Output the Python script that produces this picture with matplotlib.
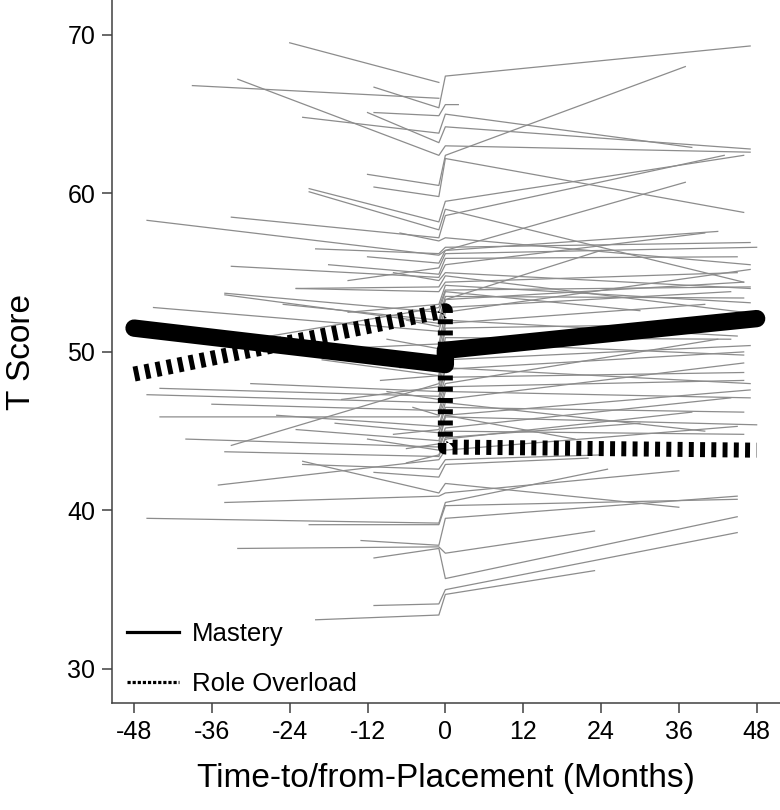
import numpy as np
import matplotlib
matplotlib.use("Agg")
import matplotlib.pyplot as plt
from matplotlib.lines import Line2D

plt.rcParams['font.family'] = ['Liberation Sans', 'DejaVu Sans']
plt.rcParams['axes.unicode_minus'] = False

# individual trajectories: pre-placement segment (start month, start score, score just before 0)
pre_t = [-24, -39, -32, -11, -11, -22, -12, -12, -11, -21, -21, -46, -33, -12, -33, -23, -34, -45,
         -34, -23, -44, -46, -44, -36, -33, -34, -23, -35, -34, -22, -46, -32, -21, -13, -11, -11,
         -20, -11, -22, -8, -6, -9, -7, -10, -5, -8, -6, -14, -16, -7,
         -18, -25, -15, -28, -19, -30, -9, -26, -17, -12, -40, -20, -15, -27, -6]
pre_v0 = [69.5, 66.8, 67.2, 66.7, 65.1, 64.8, 65.1, 61.2, 60.4, 60.3, 60.1, 58.3, 58.5, 56.0, 55.4,
          54.0, 53.7, 52.8, 53.6, 54.0, 47.7, 47.3, 45.9, 46.7, 44.1, 43.7, 45.1, 41.6, 40.5, 43.1,
          39.5, 37.6, 39.1, 38.1, 37.0, 34.0, 33.1, 42.4, 42.9, 55.0, 52.0, 50.8, 49.0, 48.2, 46.5,
          44.8, 43.9, 50.0, 47.0, 57.5,
          55.5, 53.0, 52.5, 50.0, 49.5, 48.0, 47.5, 46.0, 45.5, 44.5, 44.5, 56.5, 54.5, 51.0, 43.0]
pre_v1 = [67.0, 66.0, 62.4, 65.4, 64.9, 63.8, 63.2, 60.5, 59.8, 58.2, 57.7, 56.1, 57.2, 55.6, 54.7,
          53.8, 52.5, 51.3, 51.8, 54.1, 47.2, 46.8, 45.9, 46.3, 48.0, 43.4, 44.4, 43.2, 40.9, 41.1,
          39.2, 37.7, 39.1, 37.8, 37.6, 34.1, 33.4, 42.1, 42.6, 54.5, 51.6, 50.2, 49.4, 48.5, 46.0,
          45.1, 44.2, 49.0, 47.8, 57.0,
          54.9, 52.0, 53.0, 50.5, 48.5, 47.5, 47.0, 45.3, 44.9, 43.8, 44.0, 56.2, 55.3, 52.8, 43.5]

# post-placement segment (score at 0, end month, end score)
post_v0 = [67.4, 65.0, 64.2, 62.4, 63.0, 62.2, 59.5, 58.6, 56.4, 56.4, 56.6, 56.2, 55.9, 54.4, 53.9,
           53.5, 59.0, 53.3, 55.0, 54.2, 52.5, 53.3, 49.5, 48.9, 48.4, 47.5, 47.0, 46.5, 45.9, 45.2,
           50.9, 50.6, 43.2, 42.9, 40.5, 41.1, 41.7, 40.3, 39.5, 37.3, 35.7, 35.0, 34.7, 65.6, 51.8,
           44.6, 52.0, 46.0,
           55.5, 54.8, 52.8, 51.5, 50.3, 49.0, 48.0, 47.8, 46.8, 46.0, 45.0, 44.5, 43.8, 53.8, 57.2]
post_t = [47, 38, 47, 37, 47, 46, 46, 43, 37, 42, 47, 48, 45, 45, 47, 46, 46, 24, 47, 47, 47, 46,
          47, 46, 46, 47, 46, 46, 48, 44, 44, 46, 24, 22, 25, 36, 36, 45, 45, 23, 45, 45, 23, 2, 40,
          30, 45, 20,
          40, 46, 44, 47, 45, 47, 42, 46, 40, 47, 46, 38, 45, 30, 47]
post_v1 = [69.3, 62.9, 62.8, 68.0, 62.6, 58.8, 62.4, 62.4, 60.7, 57.6, 56.9, 56.6, 56.0, 55.0, 54.1,
           53.4, 54.4, 56.4, 54.0, 53.1, 55.2, 54.4, 50.4, 50.0, 48.7, 47.1, 49.3, 46.2, 45.4, 47.1,
           50.8, 49.8, 43.5, 43.3, 42.6, 42.5, 40.2, 40.7, 40.9, 38.7, 39.6, 38.6, 36.2, 65.6, 53.0,
           45.5, 51.0, 44.5,
           57.5, 52.5, 53.8, 51.8, 51.5, 48.0, 50.8, 48.2, 45.0, 47.6, 44.8, 46.2, 45.3, 52.6, 55.5]

# group means
mastery_t = [-48, 0, 0, 48]
mastery_v = [51.5, 49.2, 50.1, 52.1]
overload_t = [-48, 0, 0, 48]
overload_v = [48.6, 52.6, 44.0, 43.8]

fig = plt.figure(figsize=(7.8, 8.1), dpi=100)
ax = fig.add_axes([112 / 780, 107 / 810, 1 - 112 / 780, 1 - 107 / 810])

gray = '#8c8c8c'
pre_order = np.argsort(pre_v1)
post_order = np.argsort(post_v0)
n = min(len(pre_order), len(post_order))
for k in range(len(pre_order)):
    i = pre_order[k]
    ts = [pre_t[i], -1]
    vs = [pre_v0[i], pre_v1[i]]
    if k < n:
        j = post_order[k]
        ts += [0, post_t[j]]
        vs += [post_v0[j], post_v1[j]]
    ax.plot(ts, vs, color=gray, lw=0.9, zorder=1)

ax.plot(mastery_t, mastery_v, color='black', lw=12.5, solid_capstyle='round',
        solid_joinstyle='round', zorder=3)
ax.plot(overload_t, overload_v, color='black', lw=10.8, dashes=(0.33, 0.42),
        dash_capstyle='butt', zorder=4)

ax.set_xlim(-51.4, 51.6)
ax.set_ylim(27.85, 72.2)
ax.set_xticks([-48, -36, -24, -12, 0, 12, 24, 36, 48])
ax.set_yticks([30, 40, 50, 60, 70])
ax.tick_params(axis='both', direction='out', length=7, width=1.1, color='#404040',
               labelsize=18, pad=5)
for s in ['top', 'right']:
    ax.spines[s].set_visible(False)
for s in ['left', 'bottom']:
    ax.spines[s].set_color('#404040')
    ax.spines[s].set_linewidth(1.1)

ax.set_xlabel('Time-to/from-Placement (Months)', fontsize=24, labelpad=14)
ax.set_ylabel('T Score', fontsize=24, labelpad=22)

handles = [Line2D([], [], color='black', lw=2.3),
           Line2D([], [], color='black', lw=2.3, linestyle=(0, (1, 0.6)))]
ax.legend(handles, ['Mastery', 'Role Overload'], loc='lower left', frameon=False,
          fontsize=18.5, handlelength=2.0, handletextpad=0.5, labelspacing=1.0,
          bbox_to_anchor=(0.0, -0.012), borderaxespad=0.2)

fig.savefig('out.png', dpi=100)
